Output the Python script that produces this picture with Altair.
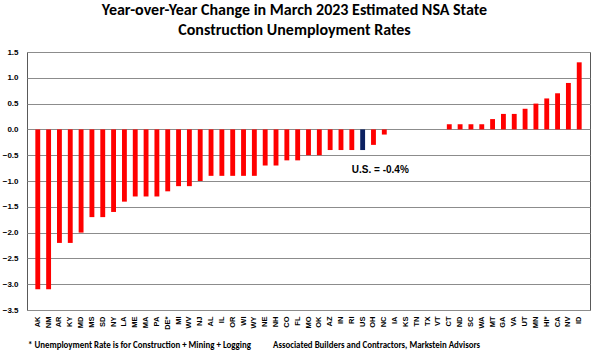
import altair as alt
import pandas as pd

states = ["AK", "NM", "AR", "KY", "MD", "MS", "SD", "NY", "LA", "ME", "MA", "PA", "DE*",
          "MI", "WV", "NJ", "AL", "IL", "OR", "WI", "WY", "NE", "NH", "CO", "FL", "MO",
          "OK", "AZ", "IN", "RI", "US", "OH", "NC", "IA", "KS", "TN", "TX", "VT", "CT",
          "ND", "SC", "WA", "MT", "GA", "VA", "UT", "MN", "HI*", "CA", "NV", "ID"]
changes = [-3.1, -3.1, -2.2, -2.2, -2.0, -1.7, -1.7, -1.6, -1.4, -1.3, -1.3, -1.3, -1.2,
           -1.1, -1.1, -1.0, -0.9, -0.9, -0.9, -0.9, -0.9, -0.7, -0.7, -0.6, -0.6, -0.5,
           -0.5, -0.4, -0.4, -0.4, -0.4, -0.3, -0.1, 0.0, 0.0, 0.0, 0.0, 0.0, 0.1,
           0.1, 0.1, 0.1, 0.2, 0.3, 0.3, 0.4, 0.5, 0.6, 0.7, 0.9, 1.3]
y_ticks = [1.5, 1.0, 0.5, 0.0, -0.5, -1.0, -1.5, -2.0, -2.5, -3.0, -3.5]

df = pd.DataFrame({"state": states, "change": changes})
df["group"] = ["US" if s == "US" else "State" for s in states]

x_scale = alt.Scale(domain=states, paddingInner=0.55, paddingOuter=0.77)
y_scale = alt.Scale(domain=[-3.5, 1.5], nice=False, zero=False)

x_enc = alt.X("state:N", sort=states, title=None, scale=x_scale,
              axis=alt.Axis(labelAngle=270, labelFont="Liberation Sans", labelFontWeight="bold",
                            labelFontSize=7.5, labelColor="#000", labelPadding=6,
                            ticks=False, domain=False, grid=False, labelOverlap=False))
y_enc = alt.Y("change:Q", title=None, scale=y_scale,
              axis=alt.Axis(values=y_ticks, format=".1f", labelFont="Liberation Sans",
                            labelFontWeight="bold", labelFontSize=8, labelColor="#000",
                            labelPadding=9, ticks=False, domain=False, labelOverlap=False,
                            grid=True, gridColor="#8c8c8c", gridWidth=1, gridOpacity=1))

bars = alt.Chart(df).mark_bar().encode(
    x=x_enc, y=y_enc,
    color=alt.Color("group:N", scale=alt.Scale(domain=["State", "US"], range=["#ff0000", "#0b2060"]),
                    legend=None),
)

note_df = pd.DataFrame({"state": ["RI"], "change": [-0.78], "label": ["U.S. = -0.4%"]})
note = alt.Chart(note_df).mark_text(align="left", baseline="middle", font="Liberation Sans",
                                    fontWeight="bold", fontSize=10, color="#000").encode(
    x=x_enc, y=y_enc, text="label:N")

foot_text = ["* Unemployment Rate is for Construction + Mining + Logging",
             "Associated Builders and Contractors, Markstein Advisors"]
foot1 = alt.Chart(pd.DataFrame({"label": [foot_text[0]]})).mark_text(
    align="left", baseline="middle", font="Carlito, Lato", fontWeight="bold", fontSize=8.9,
    color="#000").encode(x=alt.value(1), y=alt.value(293), text="label:N")
foot2 = alt.Chart(pd.DataFrame({"label": [foot_text[1]]})).mark_text(
    align="left", baseline="middle", font="Carlito, Lato", fontWeight="bold", fontSize=8.9,
    color="#000").encode(x=alt.value(246), y=alt.value(293), text="label:N")

chart = alt.layer(bars, note, foot1, foot2).properties(
    width=563, height=258,
    title=alt.TitleParams(
        text=["Year-over-Year Change in March 2023 Estimated NSA State",
              "Construction Unemployment Rates"],
        font="Carlito, Lato", fontSize=16, fontWeight="bold", color="#000",
        anchor="middle", frame="group", dx=-14, offset=10, lineHeight=20),
    autosize=alt.AutoSizeParams(type="none"),
    padding={"left": 27, "top": 52, "right": 10, "bottom": 44},
).configure_view(stroke="#595959", strokeWidth=1)

chart.save("out.html", embed_options={"renderer": "svg", "actions": False})
